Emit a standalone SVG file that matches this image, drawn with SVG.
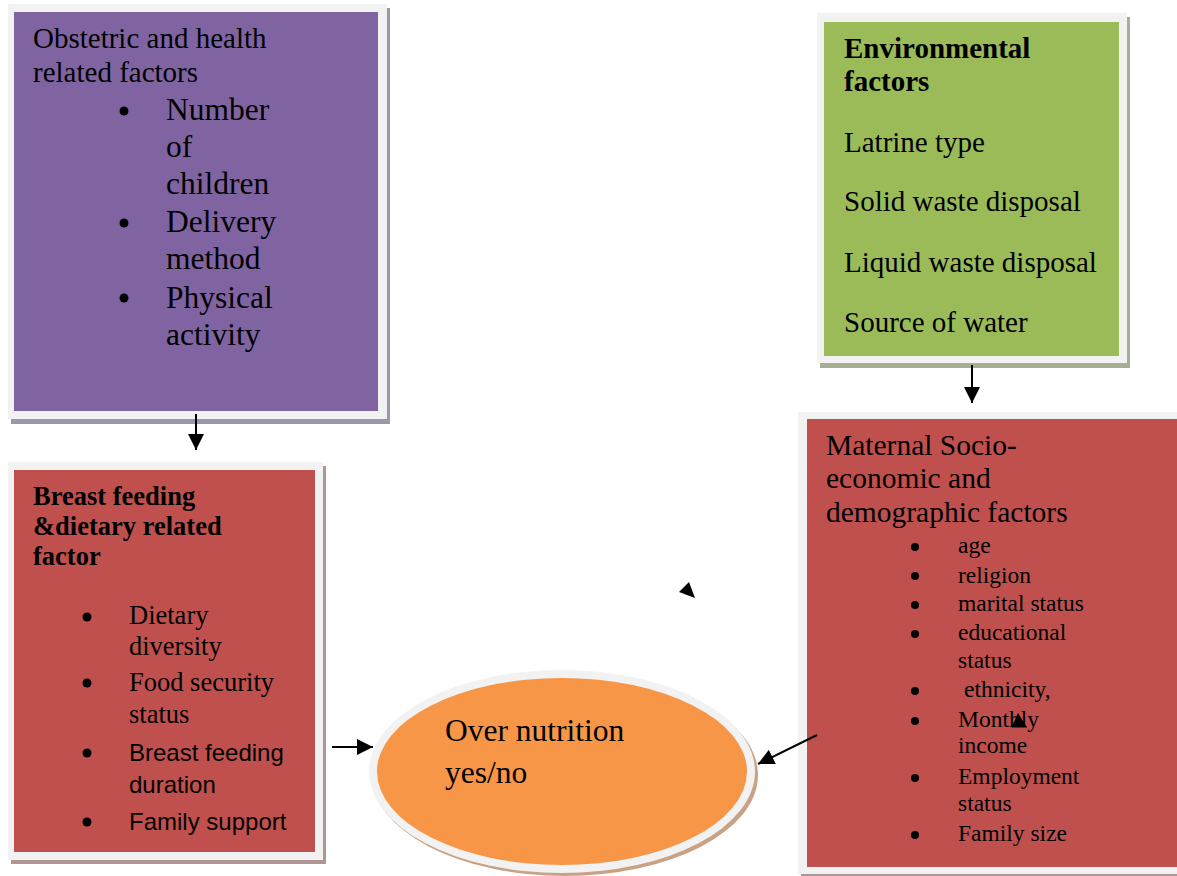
<svg xmlns="http://www.w3.org/2000/svg" width="1177" height="876" viewBox="0 0 1177 876">
<style>
.frame{fill:#F2F2F2}
.t{font-family:"Liberation Serif","Times New Roman",serif;fill:#000}
.b{font-weight:bold}
.s{font-family:"Liberation Sans",Arial,sans-serif;fill:#000}
.conn{stroke:#000;stroke-width:2;fill:none}
</style>
<defs>
<marker id="ah" viewBox="0 0 10 10" refX="10" refY="5" markerWidth="8" markerHeight="8" markerUnits="strokeWidth" orient="auto">
<path d="M0,0 L10,5 L0,10 Z" fill="#000"/>
</marker>
</defs>
<rect width="1177" height="876" fill="#fff"/>

<g id="obstetric">
<rect x="11" y="8" width="379" height="416" fill="#9C97A8"/>
<rect class="frame" x="8" y="4" width="379" height="415"/>
<rect x="14" y="12" width="364" height="399" fill="#8064A2"/>
<text class="t" font-size="29"><tspan x="33" y="48">Obstetric and health</tspan><tspan x="33" y="82">related factors</tspan></text>
<g fill="#000"><circle cx="124" cy="111" r="4.5"/><circle cx="124" cy="223" r="4.5"/><circle cx="124" cy="298" r="4.5"/></g>
<text class="t" font-size="31.5"><tspan x="166" y="120">Number</tspan><tspan x="166" y="157">of</tspan><tspan x="166" y="194">children</tspan><tspan x="166" y="232">Delivery</tspan><tspan x="166" y="269">method</tspan><tspan x="166" y="308">Physical</tspan><tspan x="166" y="345">activity</tspan></text>
</g>

<g id="environmental">
<rect x="820" y="17" width="310" height="351" fill="#A6AE94"/>
<rect class="frame" x="817" y="13" width="310" height="350"/>
<rect x="824" y="22" width="295" height="334" fill="#9BBB59"/>
<text class="t b" font-size="29"><tspan x="844" y="58">Environmental</tspan><tspan x="844" y="91">factors</tspan></text>
<text class="t" font-size="29"><tspan x="844" y="152">Latrine type</tspan><tspan x="844" y="211">Solid waste disposal</tspan><tspan x="844" y="272">Liquid waste disposal</tspan><tspan x="844" y="332">Source of water</tspan></text>
</g>

<g id="breastfeeding">
<rect x="11" y="466" width="315" height="398" fill="#B09595"/>
<rect class="frame" x="8" y="462" width="315" height="398"/>
<rect x="14" y="470" width="301" height="382" fill="#C0504D"/>
<text class="t b" font-size="26.5"><tspan x="33" y="505">Breast feeding</tspan><tspan x="33" y="535">&amp;dietary related</tspan><tspan x="33" y="565">factor</tspan></text>
<g fill="#000"><circle cx="87" cy="617" r="4.5"/><circle cx="87" cy="683" r="4.5"/><circle cx="87" cy="753" r="4.5"/><circle cx="87" cy="822" r="4.5"/></g>
<text class="t" font-size="26.5"><tspan x="129" y="624">Dietary</tspan><tspan x="129" y="655">diversity</tspan><tspan x="129" y="691">Food security</tspan><tspan x="129" y="723">status</tspan></text>
<text class="s" font-size="24"><tspan x="129" y="761">Breast feeding</tspan><tspan x="129" y="793">duration</tspan><tspan x="129" y="830">Family support</tspan></text>
</g>

<g id="maternal">
<rect x="801" y="416" width="380" height="464" fill="#B09595"/>
<rect class="frame" x="798" y="412" width="380" height="462"/>
<rect x="807" y="419" width="372" height="448" fill="#C0504D"/>
<text class="t" font-size="29.5"><tspan x="826" y="455">Maternal Socio-</tspan><tspan x="826" y="488">economic and</tspan><tspan x="826" y="522">demographic factors</tspan></text>
<g fill="#000"><circle cx="915" cy="547" r="4"/><circle cx="915" cy="576" r="4"/><circle cx="915" cy="605" r="4"/><circle cx="915" cy="634" r="4"/><circle cx="915" cy="691" r="4"/><circle cx="915" cy="721" r="4"/><circle cx="915" cy="778" r="4"/><circle cx="915" cy="835" r="4"/></g>
<text class="t" font-size="23.5"><tspan x="958" y="553">age</tspan><tspan x="958" y="583">religion</tspan><tspan x="958" y="611">marital status</tspan><tspan x="958" y="640">educational</tspan><tspan x="958" y="668">status</tspan><tspan x="964" y="697">ethnicity,</tspan><tspan x="958" y="727">Monthly</tspan><tspan x="958" y="753">income</tspan><tspan x="958" y="784">Employment</tspan><tspan x="958" y="811">status</tspan><tspan x="958" y="841">Family size</tspan></text>
</g>

<g id="outcome">
<ellipse cx="565" cy="775" rx="193" ry="101" fill="#C9A286"/>
<ellipse cx="562" cy="771.5" rx="193" ry="101.5" fill="#F2F2F2"/>
<ellipse cx="562" cy="771.5" rx="185" ry="93.5" fill="#F79646"/>
<text class="t" font-size="31.5"><tspan x="445" y="741">Over nutrition</tspan><tspan x="445" y="783">yes/no</tspan></text>
</g>

<g id="connectors">
<line class="conn" x1="196" y1="414" x2="196" y2="450" marker-end="url(#ah)"/>
<line class="conn" x1="972" y1="365" x2="972" y2="403" marker-end="url(#ah)"/>
<line class="conn" x1="332" y1="747" x2="373" y2="747" marker-end="url(#ah)"/>
<line class="conn" x1="817" y1="735" x2="758" y2="764" marker-end="url(#ah)"/>
<polygon points="689,582 679,592 695,598" fill="#000"/>
<polygon points="1018,713 1011.5,727.5 1027,727.5" fill="#000"/>
</g>
</svg>
